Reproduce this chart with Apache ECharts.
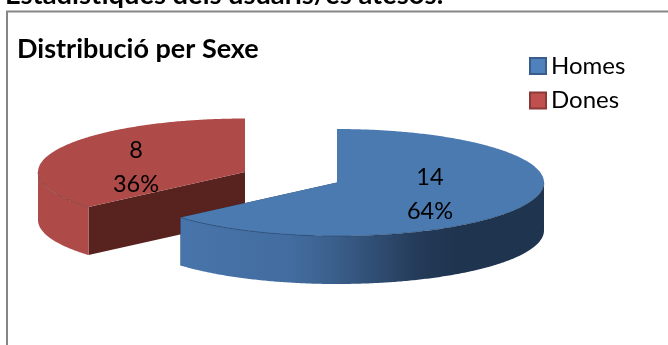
<!DOCTYPE html>
<html><head><meta charset="utf-8">
<style>html,body{margin:0;padding:0;background:#fff}#c{width:668px;height:345px}</style>
<script src="https://cdn.jsdelivr.net/npm/echarts@6/dist/echarts.min.js"></script>
</head><body><div id="c"></div>
<script>
const categories = ['Homes', 'Dones'];
const values = [14, 8];
const heading = 'Estadístiques dels usuaris/es atesos:';
const chartTitle = 'Distribució per Sexe';

const FONT = 'Lato';
const total = values.reduce((a, b) => a + b, 0);
const RX = 207, RY = 53.5, DEPTH = 48;
const centers = [{x: 337, y: 182.5}, {x: 245, y: 172}];
const labelPos = [{x: 430, y: 194}, {x: 136, y: 167}];
const looks = [
  {top: '#4a7ab0', edge: 'rgba(30,50,80,0.45)', face: '#22354f',
   side: [[0, '#4774aa'], [0.3, '#436da0'], [0.43, '#3a5e8a'], [0.66, '#233a58'], [0.76, '#1f344f'], [1, '#1f344f']]},
  {top: '#ae4a47', edge: 'rgba(70,25,22,0.45)', face: '#58231f',
   side: [[0, '#ae4a47'], [1, '#ae4a47']]}
];

function renderWedge(idx) {
  return function (params, api) {
    const v = api.value(0);
    const before = values.slice(0, idx).reduce((a, b) => a + b, 0);
    const a0 = before / total * Math.PI * 2, a1 = (before + v) / total * Math.PI * 2;
    const c = centers[idx], look = looks[idx];
    const pt = (a, dz) => [c.x + RX * Math.sin(a), c.y - RY * Math.cos(a) + (dz || 0)];
    const arc = (s, e, dz) => {
      const out = [], n = Math.max(2, Math.ceil((e - s) / 0.01));
      for (let i = 0; i <= n; i++) out.push(pt(s + (e - s) * i / n, dz));
      return out;
    };
    const apex = [c.x, c.y], apexLow = [c.x, c.y + DEPTH];
    const children = [];
    [a0, a1].forEach(a => children.push({
      type: 'polygon',
      shape: {points: [apex, pt(a), pt(a, DEPTH), apexLow]},
      style: {fill: look.face}
    }));
    // visible rim: the front half of the ellipse (90deg..270deg clockwise from top)
    const fs = Math.max(a0, Math.PI / 2), fe = Math.min(a1, Math.PI * 3 / 2);
    if (fe > fs) {
      const upper = arc(fs, fe, 0), lower = arc(fs, fe, DEPTH).reverse();
      const xs = upper.map(p => p[0]);
      const minX = Math.min.apply(null, xs), maxX = Math.max.apply(null, xs);
      children.push({
        type: 'polygon',
        shape: {points: upper.concat(lower)},
        style: {fill: new echarts.graphic.LinearGradient(minX, 0, maxX, 0,
          look.side.map(s => ({offset: s[0], color: s[1]})), true)}
      });
    }
    children.push({
      type: 'polygon',
      shape: {points: [apex].concat(arc(a0, a1, 0))},
      style: {fill: look.top}
    });
    if (fe > fs) children.push({
      type: 'polyline',
      shape: {points: arc(fs, fe, 0)},
      style: {fill: 'none', stroke: look.edge, lineWidth: 0.8}
    });
    children.push({
      type: 'text',
      x: labelPos[idx].x, y: labelPos[idx].y,
      style: {
        text: v + '\n' + Math.round(v / total * 100) + '%',
        font: '23.5px ' + FONT, fill: '#000', align: 'center', verticalAlign: 'middle', lineHeight: 34
      }
    });
    return {type: 'group', children};
  };
}

const chart = echarts.init(document.getElementById('c'), null, {renderer: 'canvas'});
chart.setOption({
  backgroundColor: '#fff',
  animation: false,
  title: [
    {text: heading, left: 5, top: -18, padding: 0,
     textStyle: {fontFamily: FONT, fontWeight: 'bold', fontSize: 27.3, color: '#000'}},
    {text: chartTitle, left: 17, top: 36, padding: 0,
     textStyle: {fontFamily: FONT, fontWeight: 'bold', fontSize: 27, color: '#000'}}
  ],
  legend: {
    orient: 'vertical', left: 529, top: 54, padding: 0,
    itemWidth: 16, itemHeight: 16, itemGap: 10.5, selectedMode: false,
    textStyle: {fontFamily: FONT, fontSize: 24, color: '#000', padding: [0, 0, 0, 0]},
    data: [
      {name: categories[0], icon: 'rect', itemStyle: {color: '#4f81bd', borderColor: '#385d8a', borderWidth: 2}},
      {name: categories[1], icon: 'rect', itemStyle: {color: '#c0504d', borderColor: '#8c3836', borderWidth: 2}}
    ]
  },
  graphic: [{
    type: 'rect', silent: true, z: -1,
    shape: {x: 7, y: 11.5, width: 800, height: 500},
    style: {fill: 'none', stroke: '#868686', lineWidth: 2}
  }],
  series: [1, 0].map(i => ({
    type: 'custom',
    name: categories[i],
    coordinateSystem: 'none',
    silent: true,
    data: [[values[i]]],
    renderItem: renderWedge(i)
  }))
});
</script></body></html>
